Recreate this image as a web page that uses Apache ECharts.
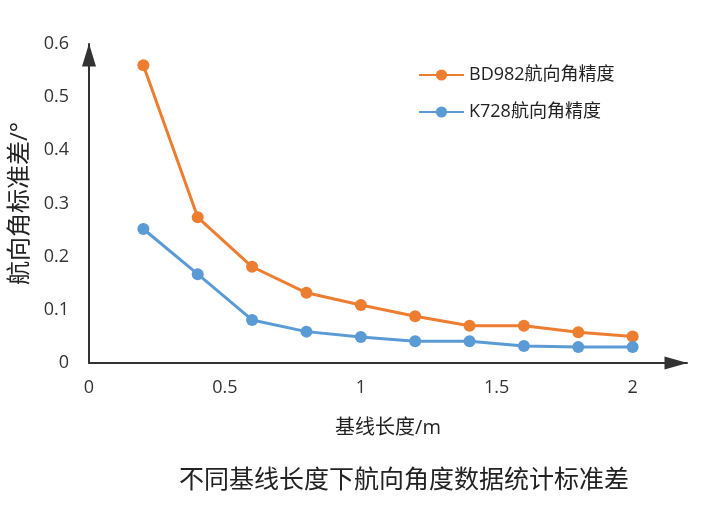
<!DOCTYPE html>
<html lang="zh">
<head>
  <meta charset="UTF-8">
  <title>航向角标准差</title>
  <script src="https://cdn.jsdelivr.net/npm/echarts@6/dist/echarts.min.js"></script>
  <style>
    html,body{margin:0;padding:0;background:#fff;}
    #main{width:708px;height:509px;}
  </style>
</head>
<body>
<div id="main"></div>
<script>
  var baseline = [0.2, 0.4, 0.6, 0.8, 1.0, 1.2, 1.4, 1.6, 1.8, 2.0];
  var bd982 = [0.56, 0.274, 0.181, 0.132, 0.109, 0.088, 0.070, 0.070, 0.058, 0.050];
  var k728 = [0.252, 0.167, 0.081, 0.059, 0.049, 0.041, 0.041, 0.032, 0.030, 0.030];
  var names = ['BD982航向角精度', 'K728航向角精度'];

  function pairs(ys){
    return baseline.map(function(x, i){ return [x, ys[i]]; });
  }

  var font = '"Open Sans", "Noto Sans CJK SC", sans-serif';
  var chart = echarts.init(document.getElementById('main'), null, {renderer:'canvas'});

  chart.setOption({
    backgroundColor:'#fff',
    animation:false,
    title:{
      text:'不同基线长度下航向角度数据统计标准差',
      left:399, top:461, textAlign:'center',
      textStyle:{fontFamily:'"Noto Sans CJK SC", sans-serif', fontSize:25, fontWeight:'normal', color:'#222'}
    },
    legend:{
      orient:'vertical', left:418, top:66, itemGap:19, padding:0,
      itemWidth:45, itemHeight:14,
      textStyle:{fontFamily:font, fontSize:18, color:'#222'},
      data:names
    },
    grid:{left:89, right:21, top:44, bottom:146, outerBoundsMode:'none'},
    xAxis:{
      type:'value', min:0, max:2.2, interval:0.5,
      name:'基线长度/m', nameLocation:'middle', nameGap:55,
      nameTextStyle:{fontFamily:font, fontSize:20, color:'#222'},
      axisLine:{show:true, lineStyle:{color:'#333', width:2}, symbol:['none','triangle'], symbolSize:[13,23], symbolOffset:[0,-11]},
      axisTick:{show:false},
      splitLine:{show:false},
      axisLabel:{fontFamily:font, fontSize:18, color:'#333', margin:16, showMaxLabel:false}
    },
    yAxis:{
      type:'value', min:0, max:0.6, interval:0.1,
      name:'航向角标准差/°', nameLocation:'middle', nameGap:57, nameRotate:90,
      nameTextStyle:{fontFamily:font, fontSize:24, color:'#222'},
      axisLine:{show:true, lineStyle:{color:'#333', width:2}, symbol:['none','triangle'], symbolSize:[14,23], symbolOffset:[0,-11]},
      axisTick:{show:false},
      splitLine:{show:false},
      axisLabel:{fontFamily:font, fontSize:18, color:'#333', margin:20}
    },
    series:[{
      name:names[0], type:'line', data:pairs(bd982),
      symbol:'circle', symbolSize:12,
      lineStyle:{color:'#ED7D31', width:3},
      itemStyle:{color:'#ED7D31'}
    },{
      name:names[1], type:'line', data:pairs(k728),
      symbol:'circle', symbolSize:12,
      lineStyle:{color:'#5B9BD5', width:3},
      itemStyle:{color:'#5B9BD5'}
    }]
  });
</script>
</body>
</html>
